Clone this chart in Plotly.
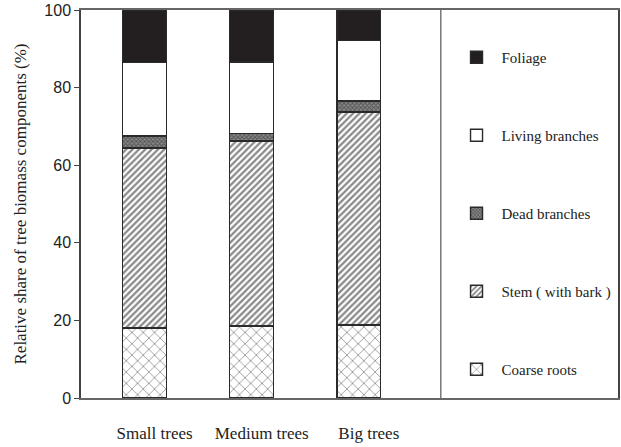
import plotly.graph_objects as go

# Tree size classes and relative biomass share (%) of each component
categories = ["Small trees", "Medium trees", "Big trees"]
coarse_roots = [18.0, 18.6, 18.8]
stem = [46.4, 47.6, 54.9]
dead_branches = [3.1, 2.0, 2.8]
living_branches = [18.9, 18.4, 15.6]
foliage = [13.6, 13.4, 7.9]

y_ticks = [0, 20, 40, 60, 80, 100]

serif = "Liberation Serif, Times New Roman, serif"
sans = "Liberation Sans, Arial, sans-serif"

# stacked bottom-to-top; legend lists them top-to-bottom
components = [
    ("Coarse roots", coarse_roots, dict(shape="x", fgcolor="#3a3a3a", bgcolor="white", size=8, solidity=0.22)),
    ("Stem ( with bark )", stem, dict(shape="/", fgcolor="#111111", bgcolor="white", size=4.5, solidity=0.5)),
    ("Dead branches", dead_branches, dict(shape="x", fgcolor="#222222", bgcolor="#8a8a8a", size=3, solidity=0.55)),
    ("Living branches", living_branches, dict(shape="", fgcolor="white", bgcolor="white")),
    ("Foliage", foliage, dict(shape="", fgcolor="#231f20", bgcolor="#231f20")),
]

fig = go.Figure()
n = len(components)
for i, (name, vals, pat) in enumerate(components):
    fig.add_trace(go.Bar(
        x=categories, y=vals, name=name,
        width=0.41,
        legendgroup=f"g{i}",
        legendrank=n - i,
        marker=dict(color=pat["bgcolor"], pattern=pat,
                    line=dict(color="#2a2a2a", width=1.4)),
        hoverinfo="skip",
    ))

# separator between plotting region and the legend panel
fig.add_shape(type="line", xref="paper", yref="paper",
              x0=0.67, x1=0.67, y0=0, y1=1,
              line=dict(color="#777", width=1.5))

fig.update_layout(
    barmode="stack",
    width=621, height=447,
    margin=dict(l=81, r=1, t=10, b=49),
    plot_bgcolor="white", paper_bgcolor="white",
    showlegend=True,
    legend=dict(
        x=0.69, xanchor="left", y=0.92, yanchor="top",
        traceorder="grouped",
        tracegroupgap=55.5,
        font=dict(family=serif, size=15, color="#222"),
        itemwidth=40,
        bgcolor="rgba(0,0,0,0)",
    ),
    xaxis=dict(
        range=[-0.594, 4.42],
        showline=True, linecolor="#666", linewidth=1.5, mirror=True,
        ticks="", showgrid=False, zeroline=False,
        tickfont=dict(family=serif, size=17, color="#222"),
        ticklabelshift=10, ticklabelstandoff=19,
    ),
    yaxis=dict(
        range=[0, 100],
        tickvals=y_ticks,
        showline=True, linecolor="#444", linewidth=1.5, mirror=True,
        ticks="outside", ticklen=5, tickcolor="#444", tickwidth=1.3,
        showgrid=False, zeroline=False,
        tickfont=dict(family=sans, size=16, color="#222"),
        title=dict(text="Relative share of tree biomass components (%)",
                   font=dict(family=serif, size=17, color="#222"),
                   standoff=13),
    ),
)

fig.write_html("out.html")
